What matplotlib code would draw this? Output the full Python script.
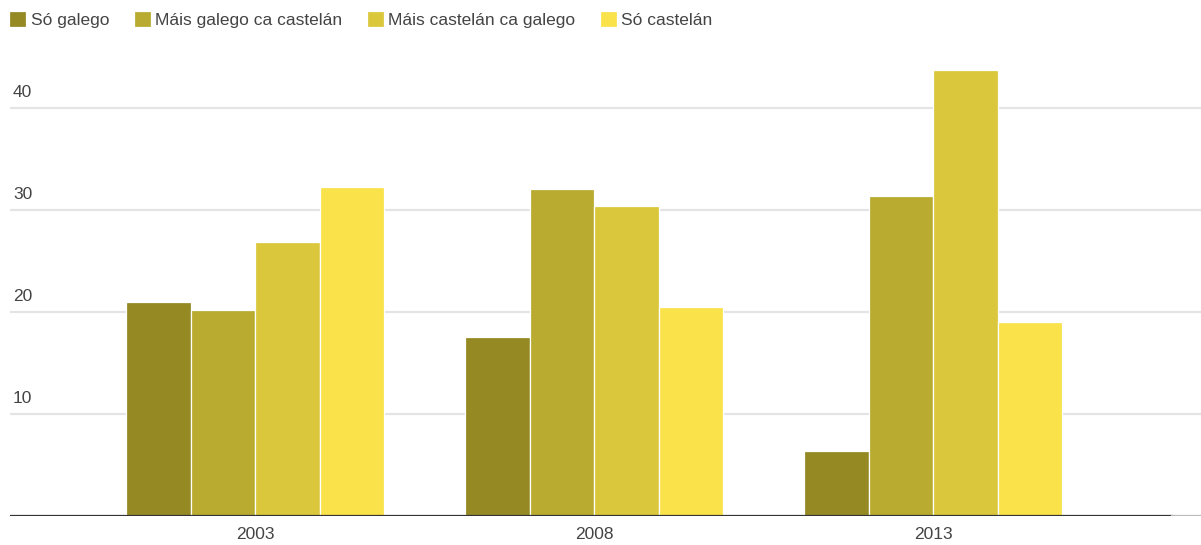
import numpy as np
import matplotlib.pyplot as plt

years = ["2003", "2008", "2013"]
series = ["Só galego", "Máis galego ca castelán", "Máis castelán ca galego", "Só castelán"]
so_galego = [21.0, 17.5, 6.3]
mais_galego = [20.2, 32.1, 31.4]
mais_castelan = [26.9, 30.4, 43.8]
so_castelan = [32.3, 20.5, 19.0]
yticks = [10, 20, 30, 40]

colors = ["#958923", "#b9aa30", "#dac73b", "#fae24b"]
values = [so_galego, mais_galego, mais_castelan, so_castelan]

plt.rcParams["font.family"] = ["Liberation Sans", "DejaVu Sans"]
textcol = "#444444"

fig = plt.figure(figsize=(12.01, 5.45), dpi=100)
ax = fig.add_axes([10 / 1201, 29.5 / 545, 1 - 10 / 1201, 465.5 / 545])

x = np.arange(len(years))
w = 0.1905
for i, (name, vals) in enumerate(zip(series, values)):
    ax.bar(x + (i - 1.5) * w, vals, width=w, color=colors[i],
           edgecolor="#ffffff", linewidth=0.9, label=name, zorder=2)

ax.set_xlim(-0.723, 2.79)
ax.set_ylim(0, 45.73)

# grid lines and the labels that sit on top of them
for t in yticks:
    ax.axhline(t, color="#e4e4e4", linewidth=1.6, zorder=1)
    ax.annotate(str(t), xy=(0, t), xycoords=("axes fraction", "data"),
                xytext=(3, 8), textcoords="offset pixels",
                ha="left", va="bottom", fontsize=12.5, color=textcol)
ax.axhline(0, xmin=0, xmax=0.976, color="#333333", linewidth=1.6, zorder=3)
ax.axhline(0, xmin=0.976, xmax=1, color="#bbbbbb", linewidth=1.6, zorder=3)

for s in ax.spines.values():
    s.set_visible(False)
ax.set_yticks([])
ax.set_xticks(x)
ax.set_xticklabels(years, fontsize=12.5, color=textcol)
ax.tick_params(axis="x", length=0, pad=8)

fig.legend(loc="upper left", bbox_to_anchor=(9 / 1201, 1 - 11 / 545), ncol=4,
           frameon=False, fontsize=12.5, handlelength=1.0, handleheight=1.0,
           handletextpad=0.25, columnspacing=1.4, borderpad=0, borderaxespad=0,
           labelcolor=textcol)

fig.savefig("out.png", dpi=100)
